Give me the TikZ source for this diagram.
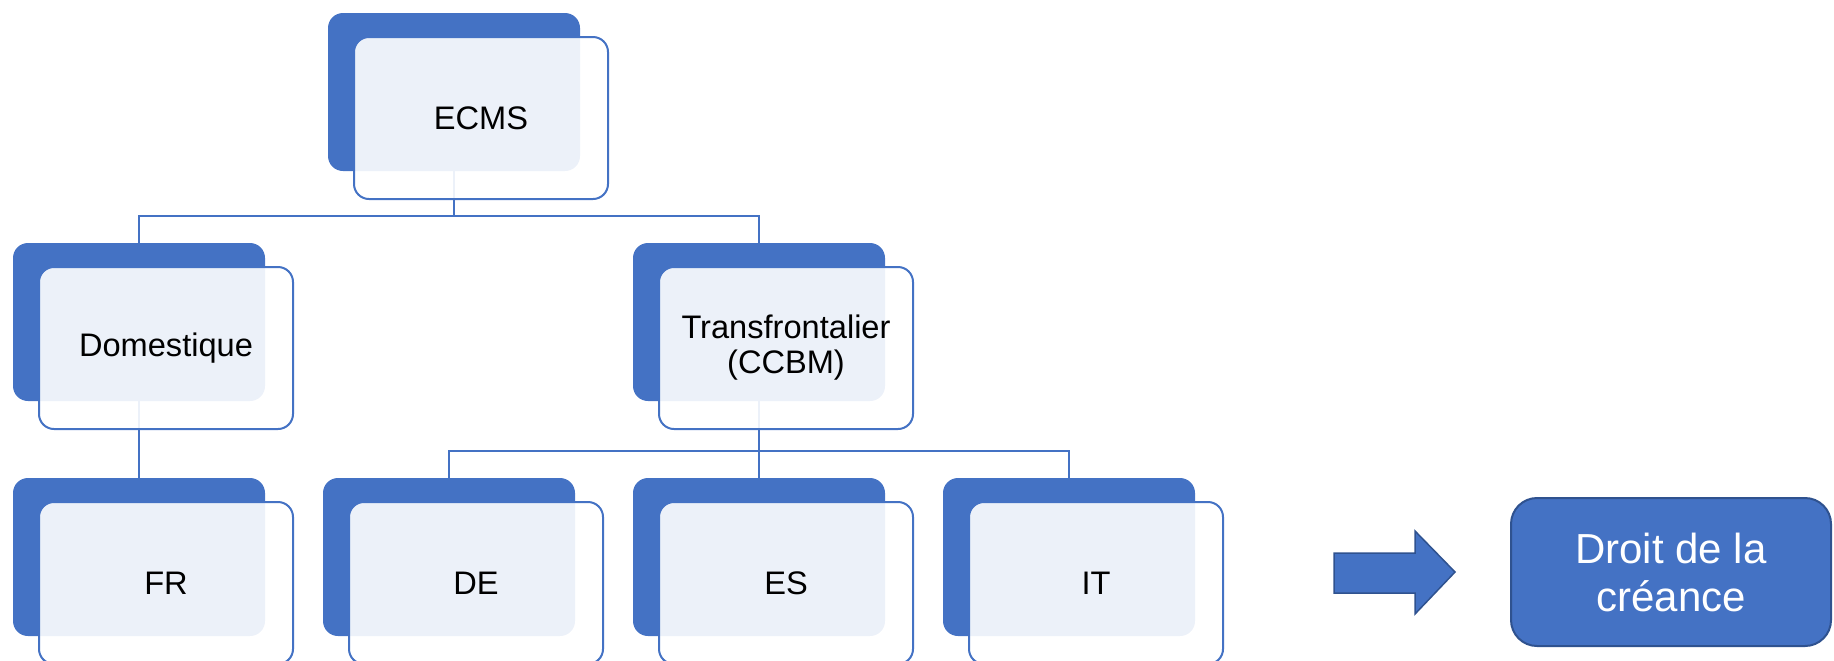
\documentclass[tikz,border=0pt]{standalone}
\usepackage{fontspec}
\setmainfont{Liberation Sans}

\definecolor{accent}{HTML}{4472C4}
\definecolor{accentdark}{HTML}{2F528F}

\tikzset{
    backbox/.style={fill=accent, rounded corners=7.5pt, minimum width=126pt, minimum height=79pt, inner sep=0pt},
    frontbox/.style={draw=accent, line width=1pt, fill=white, fill opacity=0.9, text opacity=1, rounded corners=7.5pt,
        minimum width=127pt, minimum height=81pt, inner sep=0pt, align=center, font=\fontsize{16.3}{17.5}\selectfont},
    link/.style={draw=accent, line width=1pt},
    resultbox/.style={fill=accent, draw=accentdark, line width=1pt, rounded corners=13pt, minimum width=160pt,
        minimum height=74pt, text=white, align=center, font=\fontsize{21}{24}\selectfont},
}

\begin{document}
\begin{tikzpicture}[x=0.5pt, y=-0.5pt]
    \useasboundingbox (0,0) rectangle (1834,660);
    \clip (0,0) rectangle (1834,660);

    \node[backbox] (ecmsback) at (454,92) {};
    \node[backbox] (domback) at (139,322) {};
    \node[backbox] (transback) at (759,322) {};
    \node[backbox] (frback) at (139,557) {};
    \node[backbox] (deback) at (449,557) {};
    \node[backbox] (esback) at (759,557) {};
    \node[backbox] (itback) at (1069,557) {};

    \coordinate (topbus) at (454,216);
    \coordinate (lowbus) at (759,451);
    \draw[link] (ecmsback.south) -- (topbus) -| (domback.north);
    \draw[link] (topbus) -| (transback.north);
    \draw[link] (domback.south) -- (frback.north);
    \draw[link] (transback.south) -- (lowbus) -- (esback.north);
    \draw[link] (lowbus) -| (deback.north);
    \draw[link] (lowbus) -| (itback.north);

    \node[frontbox] (ecms) at (481,118) {ECMS};
    \node[frontbox] (dom) at (166,348) {Domestique};
    \node[frontbox] (trans) at (786,348) {Transfrontalier\\(CCBM)};
    \node[frontbox] (fr) at (166,583) {FR};
    \node[frontbox] (de) at (476,583) {DE};
    \node[frontbox] (es) at (786,583) {ES};
    \node[frontbox] (it) at (1096,583) {IT};

    \draw[fill=accent, draw=accentdark, line width=0.75pt] (1334,553) -- (1415,553) -- (1415,531) -- (1455,572)
        -- (1415,614) -- (1415,593) -- (1334,593) -- cycle;
    \node[resultbox] (droit) at (1671,572) {Droit de la\\créance};
\end{tikzpicture}
\end{document}
